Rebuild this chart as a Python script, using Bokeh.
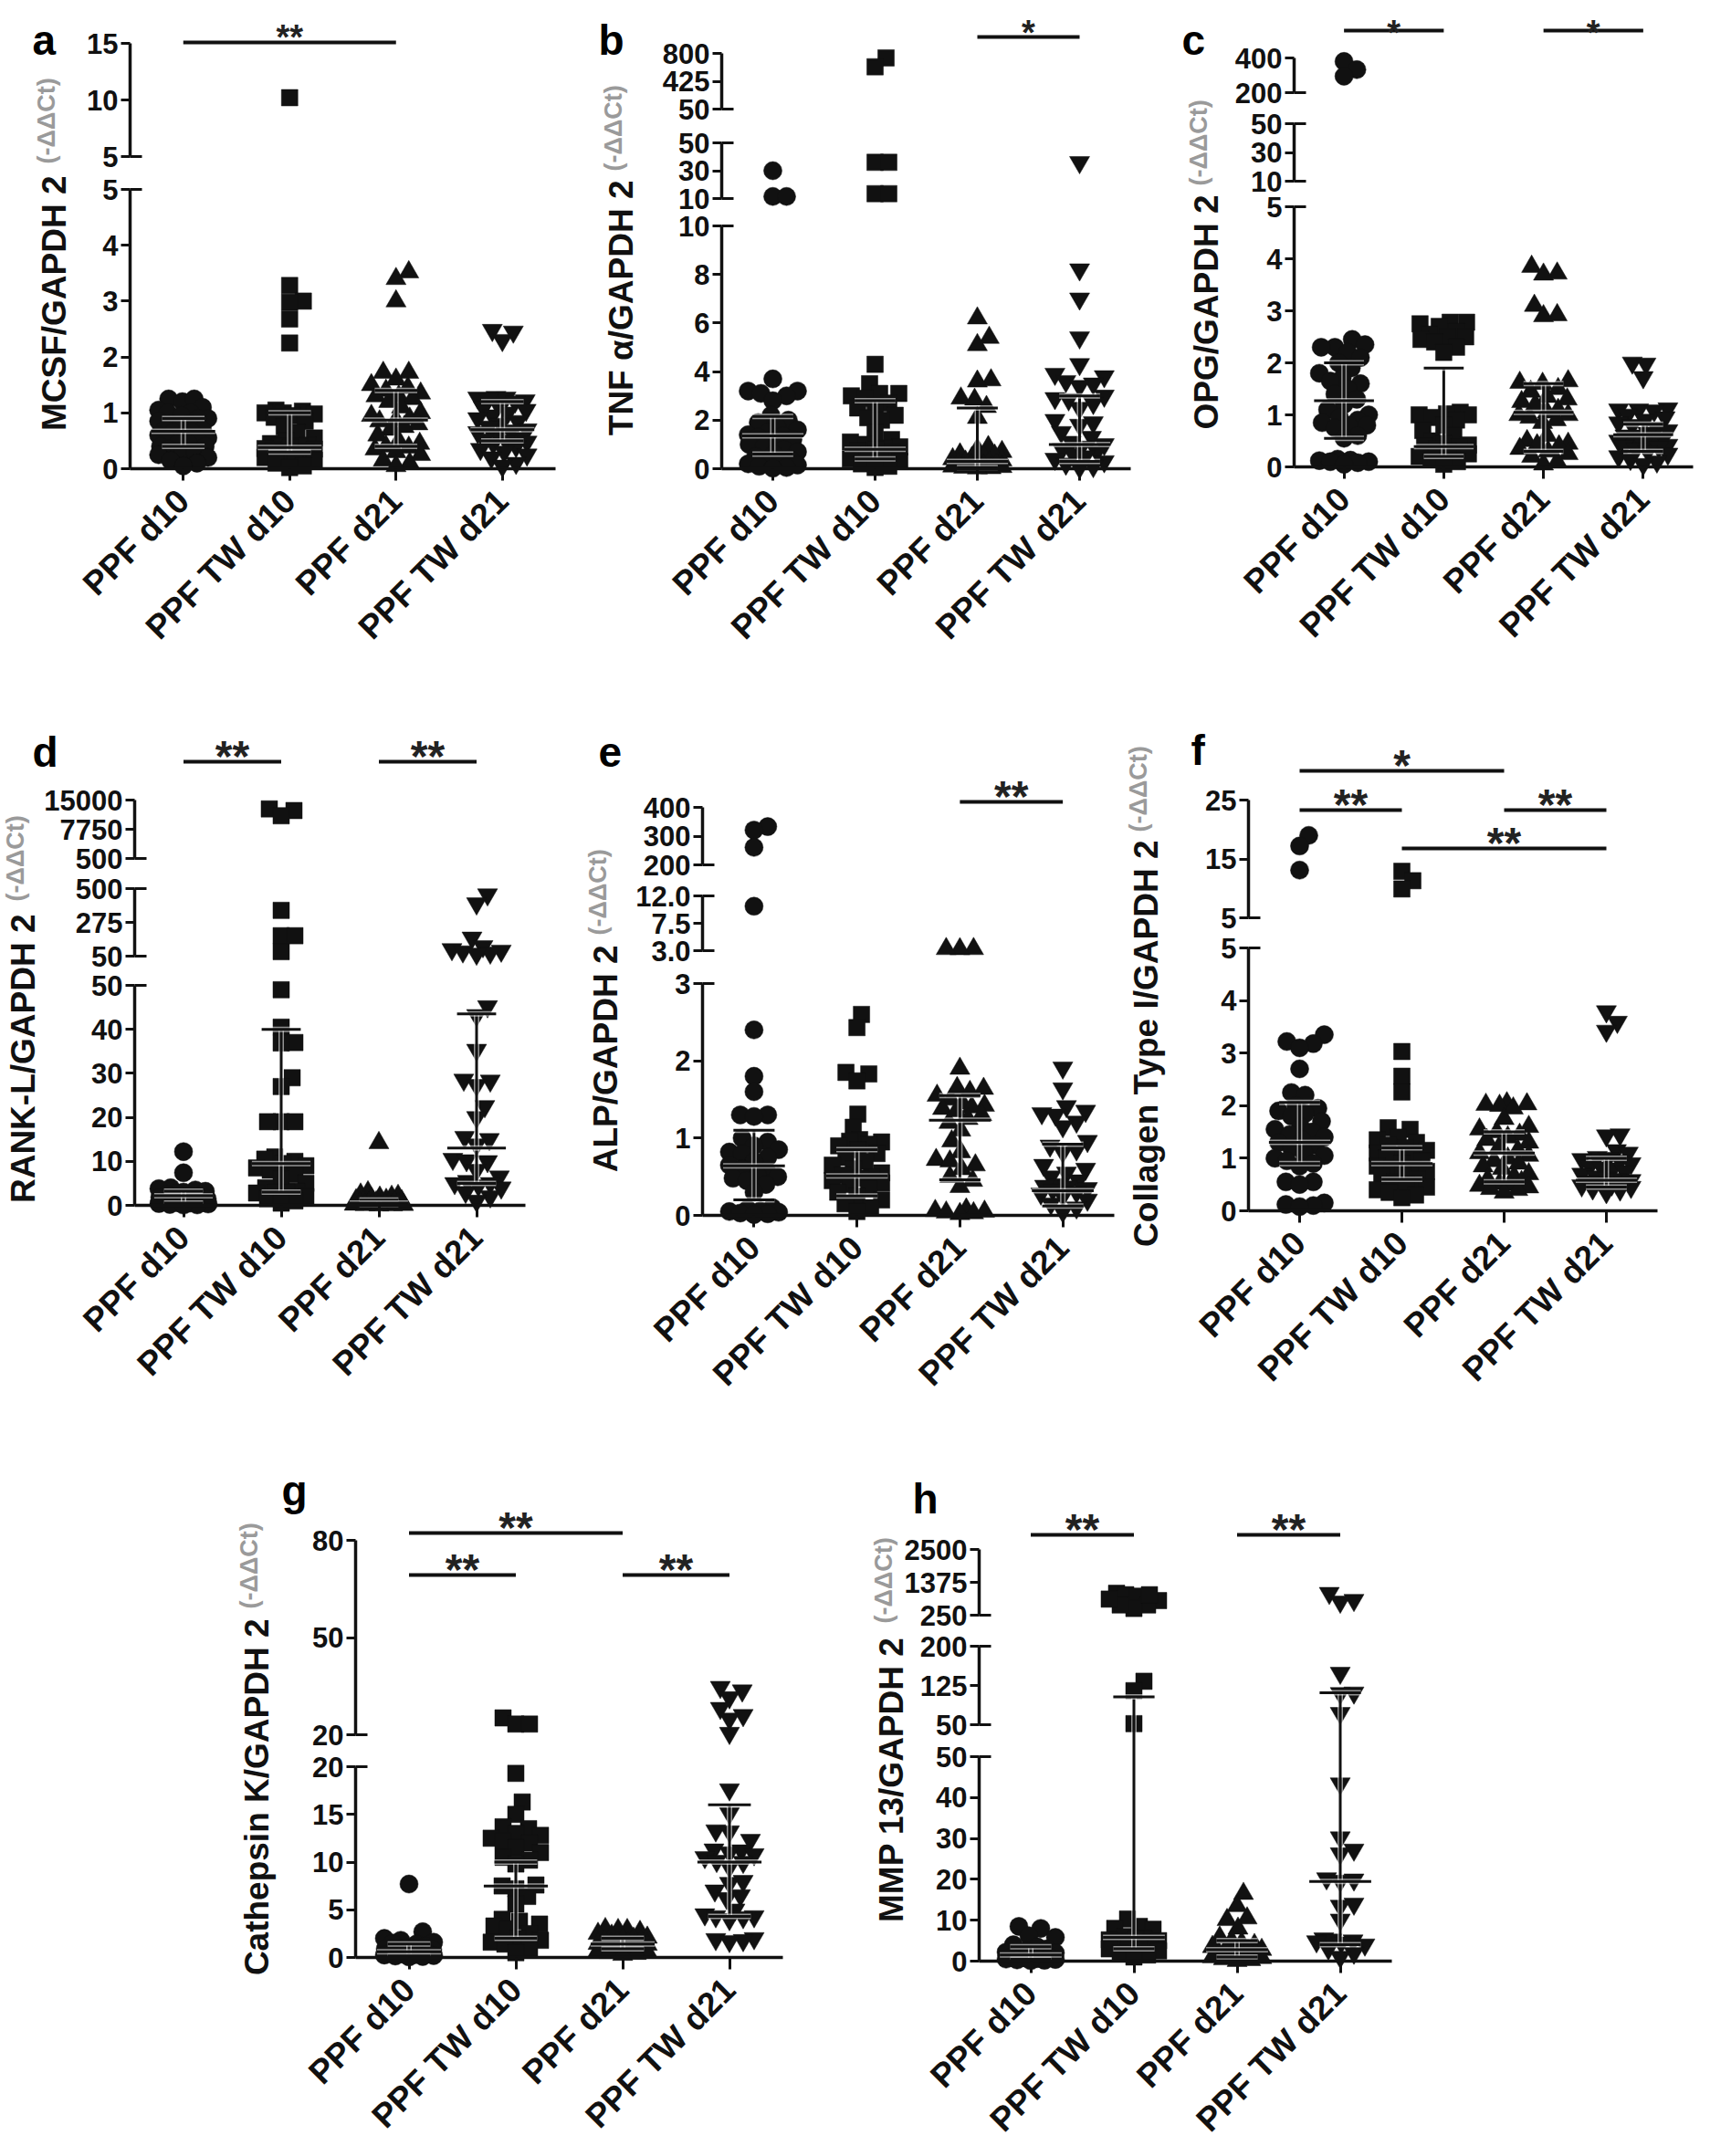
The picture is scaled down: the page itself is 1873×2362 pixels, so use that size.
import math
from bokeh.plotting import figure
from bokeh.models import Range1d, LinearAxis, FixedTicker
from bokeh.core.properties import value
from bokeh.embed import file_html
from bokeh.resources import INLINE

FONT = "Liberation Sans"
INK = "#111111"

GROUPS = ["PPF d10", "PPF TW d10", "PPF d21", "PPF TW d21"]
MARKERS = ["circle", "square", "triangle", "inverted_triangle"]

# ---------------- data ----------------
# a  MCSF
MCSF_PPF_d10 = [1.25, 1.2, 1.25, 1.1, 1.05, 1.0, 1.0, 0.95, 0.9, 0.9, 0.85, 0.8, 0.8, 0.75, 0.7, 0.7, 0.65, 0.65, 0.6, 0.6, 0.55, 0.5, 0.5, 0.45, 0.45, 0.4, 0.4, 0.35, 0.3, 0.3, 0.25, 0.2, 0.15, 0.1, 0.05]
MCSF_PPF_TW_d10 = [10.2, 3.28, 3.0, 2.98, 2.68, 2.25, 1.05, 1.03, 1.0, 1.0, 0.98, 0.95, 0.92, 0.85, 0.75, 0.65, 0.55, 0.5, 0.45, 0.42, 0.4, 0.4, 0.38, 0.36, 0.35, 0.33, 0.3, 0.28, 0.25, 0.2, 0.15, 0.1, 0.05, 0.02]
MCSF_PPF_d21 = [3.52, 3.4, 3.0, 1.72, 1.72, 1.6, 1.5, 1.45, 1.4, 1.35, 1.3, 1.3, 1.25, 1.2, 1.1, 1.0, 0.95, 0.9, 0.87, 0.85, 0.8, 0.75, 0.7, 0.6, 0.5, 0.45, 0.4, 0.38, 0.35, 0.3, 0.25, 0.15, 0.1, 0.05]
MCSF_PPF_TW_d21 = [2.48, 2.3, 2.45, 1.28, 1.27, 1.27, 1.25, 1.22, 1.2, 1.15, 1.1, 1.05, 1.0, 0.95, 0.9, 0.85, 0.8, 0.75, 0.7, 0.68, 0.65, 0.6, 0.55, 0.52, 0.5, 0.48, 0.45, 0.4, 0.35, 0.3, 0.25, 0.2, 0.1, 0.05]
MCSF_MED = [0.67, 0.38, 0.87, 0.70]
MCSF_LO = [0.4, 0.3, 0.4, 0.5]
MCSF_HI = [0.9, 1.0, 1.4, 1.2]
MCSF_TICKS = [["0", "1", "2", "3", "4", "5"], ["5", "10", "15"]]
MCSF_SIG = [(0, 2, "**", 0)]

# b  TNF alpha
TNFA_PPF_d10 = [30, 11.5, 11.5, 3.7, 3.2, 3.2, 3.1, 3.0, 2.8, 2.2, 2.0, 1.9, 1.7, 1.6, 1.5, 1.4, 1.35, 1.3, 1.2, 1.1, 1.0, 0.9, 0.8, 0.7, 0.6, 0.5, 0.4, 0.3, 0.25, 0.2, 0.15, 0.1, 0.05, 0.02]
TNFA_PPF_TW_d10 = [740, 620, 36, 36, 13.5, 13.5, 4.3, 3.5, 3.1, 3.1, 3.0, 2.9, 2.7, 2.6, 2.5, 2.2, 2.1, 2.0, 1.5, 1.2, 1.1, 1.0, 0.9, 0.85, 0.8, 0.75, 0.7, 0.6, 0.5, 0.4, 0.3, 0.2, 0.1, 0.05]
TNFA_PPF_d21 = [6.2, 5.4, 5.1, 3.65, 3.6, 2.9, 2.85, 2.55, 2.1, 0.9, 0.8, 0.7, 0.6, 0.55, 0.5, 0.45, 0.4, 0.35, 0.3, 0.28, 0.25, 0.2, 0.18, 0.15, 0.12, 0.1, 0.08, 0.05, 0.03, 0.02]
TNFA_PPF_TW_d21 = [36, 8.2, 7.0, 5.4, 4.3, 3.9, 3.8, 3.6, 3.5, 3.4, 3.0, 2.9, 2.85, 2.7, 2.5, 2.0, 1.9, 1.8, 1.5, 1.3, 1.1, 1.0, 0.9, 0.8, 0.7, 0.6, 0.5, 0.4, 0.3, 0.2, 0.1, 0.05]
TNFA_MED = [1.35, 0.8, 0.3, 1.0]
TNFA_LO = [0.6, 0.4, 0.05, 0.3]
TNFA_HI = [2.15, 2.8, 2.5, 3.0]
TNFA_TICKS = [["0", "2", "4", "6", "8", "10"], ["10", "30", "50"], ["50", "425", "800"]]
TNFA_SIG = [(2, 3, "*", 0)]

# c  OPG
OPG_PPF_d10 = [380, 333, 295, 2.45, 2.35, 2.3, 2.3, 2.2, 2.1, 2.0, 1.9, 1.8, 1.7, 1.65, 1.6, 1.5, 1.4, 1.3, 1.2, 1.1, 1.0, 0.95, 0.9, 0.85, 0.8, 0.8, 0.75, 0.6, 0.55, 0.15, 0.13, 0.12, 0.1, 0.1, 0.08, 0.05]
OPG_PPF_TW_d10 = [2.78, 2.78, 2.75, 2.7, 2.6, 2.55, 2.5, 2.5, 2.45, 2.4, 2.3, 2.2, 1.05, 1.02, 1.0, 1.0, 0.95, 0.9, 0.8, 0.7, 0.6, 0.5, 0.45, 0.42, 0.4, 0.38, 0.35, 0.3, 0.25, 0.2, 0.15, 0.1, 0.05]
OPG_PPF_d21 = [3.85, 3.72, 3.7, 3.1, 2.92, 2.9, 1.65, 1.62, 1.6, 1.5, 1.45, 1.35, 1.3, 1.25, 1.2, 1.1, 1.05, 1.0, 1.0, 0.95, 0.9, 0.85, 0.6, 0.5, 0.45, 0.42, 0.4, 0.35, 0.3, 0.25, 0.2, 0.1, 0.05]
OPG_PPF_TW_d21 = [2.0, 1.98, 1.72, 1.12, 1.1, 1.1, 1.08, 1.0, 0.95, 0.9, 0.85, 0.8, 0.75, 0.7, 0.65, 0.6, 0.6, 0.55, 0.5, 0.5, 0.48, 0.45, 0.42, 0.4, 0.38, 0.35, 0.3, 0.25, 0.2, 0.15, 0.1, 0.05]
OPG_MED = [1.27, 0.39, 1.05, 0.62]
OPG_LO = [0.55, 0.2, 0.3, 0.3]
OPG_HI = [2.0, 1.9, 1.6, 0.82]
OPG_TICKS = [["0", "1", "2", "3", "4", "5"], ["10", "30", "50"], ["200", "400"]]
OPG_SIG = [(0, 1, "*", 0), (2, 3, "*", 0)]

# d  RANK-L
RANKL_PPF_d10 = [12.2, 7.4, 4.0, 3.8, 3.5, 3.2, 3.0, 2.8, 2.5, 2.2, 2.0, 1.8, 1.5, 1.3, 1.2, 1.0, 0.9, 0.8, 0.7, 0.6, 0.5, 0.4, 0.3, 0.2, 0.1, 0.05]
RANKL_PPF_TW_d10 = [12800, 12400, 11100, 355, 186, 186, 80, 49, 40.5, 37, 36.9, 29, 27, 19, 19, 19, 11, 10.5, 10, 9.5, 9, 8.5, 8, 7, 6, 5, 4, 3.2, 3, 3, 2.8, 2, 1.5, 1, 0.5]
RANKL_PPF_d21 = [14.2, 3.0, 2.5, 2.2, 2.0, 1.8, 1.5, 1.3, 1.2, 1.0, 0.9, 0.8, 0.7, 0.6, 0.5, 0.45, 0.4, 0.35, 0.3, 0.25, 0.2, 0.15, 0.1, 0.05, 0.03]
RANKL_PPF_TW_d21 = [460, 400, 172, 115, 95, 85, 80, 72, 65, 45.2, 43.2, 35.3, 28.5, 28.3, 27.3, 22.5, 20, 15.5, 15, 13.8, 10.5, 10.2, 10, 8, 6.5, 5.5, 5, 5, 4.5, 4, 3, 2, 1]
RANKL_MED = [2.2, 9.5, 0.5, 13]
RANKL_LO = [0.5, 3, 0.2, 5]
RANKL_HI = [3.2, 40, 1.2, 43.5]
RANKL_TICKS = [["0", "10", "20", "30", "40", "50"], ["50", "275", "500"], ["500", "7750", "15000"]]
RANKL_SIG = [(0, 1, "**", 0), (2, 3, "**", 0)]

# e  ALP
ALP_PPF_d10 = [333, 321, 261, 10.3, 2.4, 1.8, 1.6, 1.3, 1.3, 1.28, 1.0, 0.95, 0.9, 0.85, 0.82, 0.8, 0.75, 0.7, 0.65, 0.6, 0.55, 0.52, 0.5, 0.48, 0.45, 0.4, 0.3, 0.1, 0.08, 0.06, 0.05, 0.04, 0.03, 0.02, 0.01]
ALP_PPF_TW_d10 = [2.6, 2.43, 1.85, 1.83, 1.74, 1.31, 1.14, 0.98, 0.96, 0.95, 0.92, 0.9, 0.85, 0.8, 0.75, 0.7, 0.65, 0.6, 0.55, 0.52, 0.5, 0.48, 0.45, 0.42, 0.4, 0.35, 0.3, 0.25, 0.2, 0.15, 0.1, 0.05]
ALP_PPF_d21 = [3.3, 3.28, 3.3, 1.9, 1.65, 1.64, 1.6, 1.55, 1.5, 1.45, 1.42, 1.4, 1.38, 1.35, 1.3, 1.25, 1.2, 1.1, 0.96, 0.82, 0.72, 0.7, 0.65, 0.6, 0.5, 0.45, 0.37, 0.08, 0.06, 0.05, 0.04, 0.03, 0.02]
ALP_PPF_TW_d21 = [1.91, 1.64, 1.41, 1.35, 1.32, 1.3, 1.21, 1.15, 0.96, 0.9, 0.85, 0.82, 0.65, 0.6, 0.55, 0.5, 0.45, 0.4, 0.38, 0.37, 0.35, 0.33, 0.3, 0.28, 0.25, 0.2, 0.15, 0.1, 0.05]
ALP_MED = [0.64, 0.51, 1.23, 0.32]
ALP_LO = [0.2, 0.25, 0.46, 0.12]
ALP_HI = [1.1, 0.85, 1.55, 0.92]
ALP_TICKS = [["0", "1", "2", "3"], ["3.0", "7.5", "12.0"], ["200", "300", "400"]]
ALP_SIG = [(2, 3, "**", 0)]

# f  Collagen type I
COL1_PPF_d10 = [19.0, 17.2, 13.1, 3.35, 3.22, 3.18, 3.1, 2.7, 2.25, 2.2, 2.0, 1.95, 1.9, 1.85, 1.8, 1.7, 1.6, 1.55, 1.5, 1.45, 1.4, 1.35, 1.3, 1.25, 1.2, 1.1, 1.05, 1.0, 0.95, 0.9, 0.85, 0.55, 0.55, 0.5, 0.15, 0.12, 0.1, 0.08]
COL1_PPF_TW_d10 = [12.9, 11.3, 9.9, 3.03, 2.56, 2.26, 1.58, 1.55, 1.4, 1.35, 1.3, 1.25, 1.2, 1.15, 1.1, 1.05, 1.0, 1.0, 0.95, 0.9, 0.85, 0.8, 0.8, 0.75, 0.7, 0.65, 0.6, 0.55, 0.5, 0.45, 0.4, 0.35, 0.3, 0.25]
COL1_PPF_d21 = [2.05, 2.03, 2.02, 2.0, 1.95, 1.75, 1.6, 1.55, 1.5, 1.45, 1.4, 1.35, 1.3, 1.2, 1.15, 1.1, 1.05, 1.0, 0.95, 0.9, 0.85, 0.8, 0.7, 0.65, 0.6, 0.55, 0.52, 0.5, 0.48, 0.45, 0.42, 0.4, 0.35]
COL1_PPF_TW_d21 = [3.79, 3.59, 3.42, 1.45, 1.43, 1.15, 1.1, 1.02, 1.0, 0.98, 0.95, 0.9, 0.85, 0.82, 0.8, 0.75, 0.7, 0.65, 0.62, 0.6, 0.58, 0.56, 0.55, 0.52, 0.5, 0.48, 0.45, 0.42, 0.4, 0.35]
COL1_MED = [1.3, 0.9, 1.1, 0.58]
COL1_LO = [0.9, 0.6, 0.55, 0.45]
COL1_HI = [2.06, 1.2, 1.5, 1.0]
COL1_TICKS = [["0", "1", "2", "3", "4", "5"], ["5", "15", "25"]]
COL1_SIG = [(0, 2, "*", 0), (0, 1, "**", 1), (2, 3, "**", 1), (1, 3, "**", 2)]

# g  Cathepsin K
CTSK_PPF_d10 = [7.7, 2.7, 2.0, 1.8, 1.6, 1.5, 1.4, 1.2, 1.0, 0.9, 0.8, 0.7, 0.6, 0.5, 0.45, 0.4, 0.35, 0.3, 0.25, 0.2, 0.15, 0.1, 0.05]
CTSK_PPF_TW_d10 = [25.2, 23.3, 23.3, 19.3, 16.3, 15.0, 13.7, 13.5, 13.0, 12.8, 12.5, 12.2, 12.0, 11.5, 11.0, 10.5, 10.2, 9.8, 7.6, 7.5, 7.2, 6.4, 5.6, 4.0, 3.8, 3.5, 3.3, 3.0, 2.5, 2.0, 1.8, 1.6, 1.4, 1.0, 0.5]
CTSK_PPF_d21 = [3.0, 2.9, 2.9, 2.7, 2.5, 2.3, 2.1, 2.0, 1.9, 1.8, 1.7, 1.6, 1.5, 1.45, 1.4, 1.35, 1.3, 1.2, 1.1, 1.0, 0.9, 0.8, 0.7, 0.6, 0.5, 0.4, 0.3]
CTSK_PPF_TW_d21 = [34.7, 33.6, 31.5, 28.2, 26.0, 24.9, 20.5, 17.6, 15.1, 13.3, 13.2, 12.3, 11.3, 11.2, 11.0, 10.8, 10.5, 10.1, 10.0, 9.5, 8.0, 7.8, 7.0, 6.5, 6.2, 5.0, 4.5, 4.3, 4.3, 4.2, 4.0, 2.0, 1.9, 1.8, 1.7]
CTSK_MED = [0.6, 7.5, 1.4, 10.0]
CTSK_LO = [0.25, 2.0, 0.9, 4.3]
CTSK_HI = [1.4, 10.0, 2.0, 16.0]
CTSK_TICKS = [["0", "5", "10", "15", "20"], ["20", "50", "80"]]
CTSK_SIG = [(0, 2, "**", 0), (0, 1, "**", 1), (2, 3, "**", 1)]

# h  MMP 13
MMP13_PPF_d10 = [8.5, 8.0, 6.2, 5.8, 4.0, 3.5, 3.0, 2.5, 2.2, 2.0, 1.8, 1.5, 1.2, 1.0, 0.9, 0.8, 0.6, 0.5, 0.4, 0.3, 0.2, 0.1]
MMP13_PPF_TW_d10 = [1000, 950, 900, 750, 600, 480, 600, 800, 950, 133, 115, 52, 10.3, 8.5, 8, 7.8, 6, 5.5, 5.4, 5.2, 5, 4.8, 4.5, 4, 3.5, 3, 2.5, 2, 1.5, 1]
MMP13_PPF_d21 = [16.5, 13.5, 10.5, 10.1, 8.0, 5.8, 5.0, 4.5, 4.0, 3.5, 3.0, 2.8, 2.5, 2.2, 2.0, 1.8, 1.5, 1.2, 1.0, 0.8, 0.5, 0.3, 0.1]
MMP13_PPF_TW_d21 = [1004, 765, 705, 148.7, 111, 110, 72, 43.4, 30.2, 27.2, 26.3, 20.2, 19.9, 19.6, 14.0, 13.5, 10.1, 5.5, 5.2, 5.0, 4.8, 4.5, 4.0, 3.0, 2.0, 1.0]
MMP13_MED = [1.5, 5.8, 2.8, 19.5]
MMP13_LO = [0.5, 3, 1.0, 4]
MMP13_HI = [3.5, 103, 5.0, 111]
MMP13_TICKS = [["0", "10", "20", "30", "40", "50"], ["50", "125", "200"], ["250", "1375", "2500"]]
MMP13_SIG = [(0, 1, "**", 0), (2, 3, "**", 0)]

PANELS = [
    ("a", "MCSF/GAPDH 2", [MCSF_PPF_d10, MCSF_PPF_TW_d10, MCSF_PPF_d21, MCSF_PPF_TW_d21], MCSF_MED, MCSF_LO, MCSF_HI, MCSF_TICKS, MCSF_SIG),
    ("b", "TNF \u03b1/GAPDH 2", [TNFA_PPF_d10, TNFA_PPF_TW_d10, TNFA_PPF_d21, TNFA_PPF_TW_d21], TNFA_MED, TNFA_LO, TNFA_HI, TNFA_TICKS, TNFA_SIG),
    ("c", "OPG/GAPDH 2", [OPG_PPF_d10, OPG_PPF_TW_d10, OPG_PPF_d21, OPG_PPF_TW_d21], OPG_MED, OPG_LO, OPG_HI, OPG_TICKS, OPG_SIG),
    ("d", "RANK-L/GAPDH 2", [RANKL_PPF_d10, RANKL_PPF_TW_d10, RANKL_PPF_d21, RANKL_PPF_TW_d21], RANKL_MED, RANKL_LO, RANKL_HI, RANKL_TICKS, RANKL_SIG),
    ("e", "ALP/GAPDH 2", [ALP_PPF_d10, ALP_PPF_TW_d10, ALP_PPF_d21, ALP_PPF_TW_d21], ALP_MED, ALP_LO, ALP_HI, ALP_TICKS, ALP_SIG),
    ("f", "Collagen Type I/GAPDH 2", [COL1_PPF_d10, COL1_PPF_TW_d10, COL1_PPF_d21, COL1_PPF_TW_d21], COL1_MED, COL1_LO, COL1_HI, COL1_TICKS, COL1_SIG),
    ("g", "Cathepsin K/GAPDH 2", [CTSK_PPF_d10, CTSK_PPF_TW_d10, CTSK_PPF_d21, CTSK_PPF_TW_d21], CTSK_MED, CTSK_LO, CTSK_HI, CTSK_TICKS, CTSK_SIG),
    ("h", "MMP 13/GAPDH 2", [MMP13_PPF_d10, MMP13_PPF_TW_d10, MMP13_PPF_d21, MMP13_PPF_TW_d21], MMP13_MED, MMP13_LO, MMP13_HI, MMP13_TICKS, MMP13_SIG),
]
SUPER = "(-\u0394\u0394Ct)"

# ---------------- layout (page pixels) ----------------
LAYOUT = {
    "a": dict(ax=150, xend=616, segs=[(521, 215), (179, 55)], sig_y=[54], letter=(43, 51), ylab=(67, 200, 187)),
    "b": dict(ax=798, xend=1246, segs=[(521, 255), (225, 164), (127, 66)], sig_y=[48], letter=(663, 51), ylab=(688, 205, 195)),
    "c": dict(ax=1425, xend=1862, segs=[(519, 234), (206, 143), (109, 71)], sig_y=[41], letter=(1302, 51), ylab=(1329, 221, 211)),
    "d": dict(ax=155, xend=583, segs=[(1328, 1087), (1055, 981), (948, 884)], sig_y=[842], letter=(43, 831), ylab=(33, 1009, 995)),
    "e": dict(ax=777, xend=1228, segs=[(1339, 1085), (1049, 989), (955, 892)], sig_y=[886], letter=(663, 831), ylab=(671, 1043, 1032)),
    "f": dict(ax=1375, xend=1823, segs=[(1334, 1046), (1013, 884)], sig_y=[852, 895, 937], letter=(1312, 829), ylab=(1263, 928, 919)),
    "g": dict(ax=397, xend=865, segs=[(2152, 1943), (1908, 1695)], sig_y=[1687, 1733], letter=(316, 1640), ylab=(289, 1781, 1770)),
    "h": dict(ax=1080, xend=1532, segs=[(2156, 1932), (1897, 1811), (1777, 1705)], sig_y=[1689], letter=(1007, 1649), ylab=(984, 1801, 1786)),
}
MSIZE = [20, 18, 22, 22]
SWARM_D = 15.0
SWARM_CAP = 27
W, H = 1857, 2346
OX, OY = 8, 8

p = figure(width=W, height=H, output_backend="svg", toolbar_location=None,
           x_range=Range1d(OX, OX + W), y_range=Range1d(OY + H, OY),
           x_axis_type=None, y_axis_type=None,
           min_border_left=0, min_border_right=0, min_border_top=0, min_border_bottom=0,
           outline_line_color=None, background_fill_color="white", border_fill_color="white")

extra_x, extra_y = {}, {}
CANDS = sorted(range(-SWARM_CAP, SWARM_CAP + 1), key=lambda c: (abs(c), -c))


def swarm(py):
    """Deterministic beeswarm: horizontal pixel offsets for points at pixel heights py."""
    placed, offs = [], [0.0] * len(py)
    for i in sorted(range(len(py)), key=lambda k: -py[k]):
        y = py[i]
        best, best_d = None, -1.0
        for c in CANDS:
            dmin = min([((c - xx) ** 2 + (y - yy) ** 2) for xx, yy in placed] or [1e9])
            if dmin >= SWARM_D ** 2:
                best = c
                break
            if dmin > best_d + 1e-9:
                best, best_d = c, dmin
        placed.append((best, y))
        offs[i] = float(best)
    return offs


def axis_common(ax):
    ax.axis_line_color = INK
    ax.axis_line_width = 3.5
    ax.major_tick_line_color = INK
    ax.major_tick_line_width = 3
    ax.minor_tick_line_color = None
    ax.major_label_text_font = FONT
    ax.major_label_text_font_style = "bold"
    ax.major_label_text_color = INK


for key, ylabel, groups, med, lo, hi, ticks, sig in PANELS:
    L = LAYOUT[key]
    ax0, xend = L["ax"], L["xend"]
    sp = (xend - ax0) / 4.0
    xr = "x_" + key
    extra_x[xr] = Range1d(-0.5 + (OX - ax0) / sp, -0.5 + (OX + W - ax0) / sp)

    segs = []
    for i, (labels, (p0, p1)) in enumerate(zip(ticks, L["segs"])):
        vals = [float(t) for t in labels]
        v0, v1 = min(vals), max(vals)
        k = (p1 - p0) / (v1 - v0)
        name = "y_%s_%d" % (key, i)
        extra_y[name] = Range1d(v0 + (OY + H - p0) / k, v0 + (OY - p0) / k)
        segs.append(dict(v0=v0, v1=v1, p0=p0, k=k, name=name))

        yax = LinearAxis(x_range_name=xr, y_range_name=name, fixed_location=-0.5, bounds=(v0, v1),
                         ticker=FixedTicker(ticks=vals),
                         major_label_overrides={v: s for v, s in zip(vals, labels)})
        axis_common(yax)
        yax.major_tick_out = 10
        yax.major_tick_in = 0
        yax.major_label_standoff = 3
        yax.major_label_text_font_size = "31px"
        p.add_layout(yax, "left")

        brk = []
        if i > 0:
            brk.append(v0)
        if i < len(ticks) - 1:
            brk.append(v1)
        if brk:
            bax = LinearAxis(x_range_name=xr, y_range_name=name, fixed_location=-0.5, bounds=(v0, v1),
                             ticker=FixedTicker(ticks=brk),
                             major_label_overrides={v: "" for v in brk})
            axis_common(bax)
            bax.axis_line_color = None
            bax.major_tick_out = 0
            bax.major_tick_in = 13
            bax.major_label_text_font_size = "31px"
            p.add_layout(bax, "left")

    def seg_of(v):
        for s in segs:
            if s["v0"] <= v <= s["v1"]:
                return s
        return segs[-1] if v > segs[-1]["v1"] else segs[0]

    def px(v):
        s = seg_of(v)
        return s["p0"] + (v - s["v0"]) * s["k"]

    # x axis with category labels
    xax = LinearAxis(x_range_name=xr, y_range_name=segs[0]["name"], fixed_location=0, bounds=(-0.5, 3.5),
                     ticker=FixedTicker(ticks=[0, 1, 2, 3]),
                     major_label_overrides={i: g for i, g in enumerate(GROUPS)})
    axis_common(xax)
    xax.major_tick_out = 13
    xax.major_tick_in = 0
    xax.major_label_orientation = math.pi / 4
    xax.major_label_standoff = 16
    xax.major_label_text_font_size = "37px"
    p.add_layout(xax, "below")

    # points
    for gi, vals in enumerate(groups):
        offs = swarm([px(v) for v in vals])
        for s in segs:
            xs = [gi + o / sp for v, o in zip(vals, offs) if seg_of(v) is s]
            ys = [v for v in vals if seg_of(v) is s]
            if xs:
                p.scatter(xs, ys, marker=MARKERS[gi], size=MSIZE[gi], fill_color=INK, line_color=INK,
                          line_width=0.5, x_range_name=xr, y_range_name=s["name"])

    # median + interquartile bars
    for gi in range(4):
        sl, sh, sm = seg_of(lo[gi]), seg_of(hi[gi]), seg_of(med[gi])
        top_in_sl = hi[gi] if sl is sh else sl["v0"] + (px(hi[gi]) - sl["p0"]) / sl["k"]
        parts = [
            (gi, gi, lo[gi], top_in_sl, sl["name"]),
            (gi - 0.2, gi + 0.2, lo[gi], lo[gi], sl["name"]),
            (gi - 0.2, gi + 0.2, hi[gi], hi[gi], sh["name"]),
            (gi - 0.3, gi + 0.3, med[gi], med[gi], sm["name"]),
        ]
        for x0, x1, y0, y1, nm in parts:
            p.segment(x0=[x0], x1=[x1], y0=[y0], y1=[y1], line_color="white", line_width=6, line_alpha=0.55,
                      x_range_name=xr, y_range_name=nm)
            p.segment(x0=[x0], x1=[x1], y0=[y0], y1=[y1], line_color=INK, line_width=3,
                      x_range_name=xr, y_range_name=nm)

    # significance bars
    for i, j, stars, lev in sig:
        yy = L["sig_y"][lev]
        star_px = 38 if yy < 200 else 48
        base = max(yy - 6, OY + 0.905 * star_px + 1.5)
        p.segment(x0=[i], x1=[j], y0=[yy], y1=[yy], line_color=INK, line_width=4, x_range_name=xr)
        p.text(x=[(i + j) / 2.0], y=[base], text=[stars], x_range_name=xr,
               text_font=value(FONT), text_font_size="%dpx" % star_px, text_font_style="bold",
               text_align="center", text_baseline="alphabetic", text_color="#222222")

    # panel letter
    lx, ly = L["letter"]
    p.text(x=[lx], y=[ly], text=[key], text_font=value(FONT), text_font_size="46px",
           text_font_style="bold", text_align="left", text_baseline="alphabetic", text_color="black")

    # y axis title with grey superscript
    cx, yend, ysup = L["ylab"]
    p.text(x=[cx], y=[yend], text=[ylabel], angle=math.pi / 2, text_font=value(FONT),
           text_font_size="37px", text_font_style="bold", text_align="right",
           text_baseline="middle", text_color=INK)
    p.text(x=[cx - 9], y=[ysup], text=[SUPER], angle=math.pi / 2, text_font=value(FONT),
           text_font_size="27px", text_font_style="bold", text_align="left",
           text_baseline="middle", text_color="#9a9a9a")

p.extra_x_ranges = extra_x
p.extra_y_ranges = extra_y

open("out.html", "w").write(file_html(p, INLINE))
